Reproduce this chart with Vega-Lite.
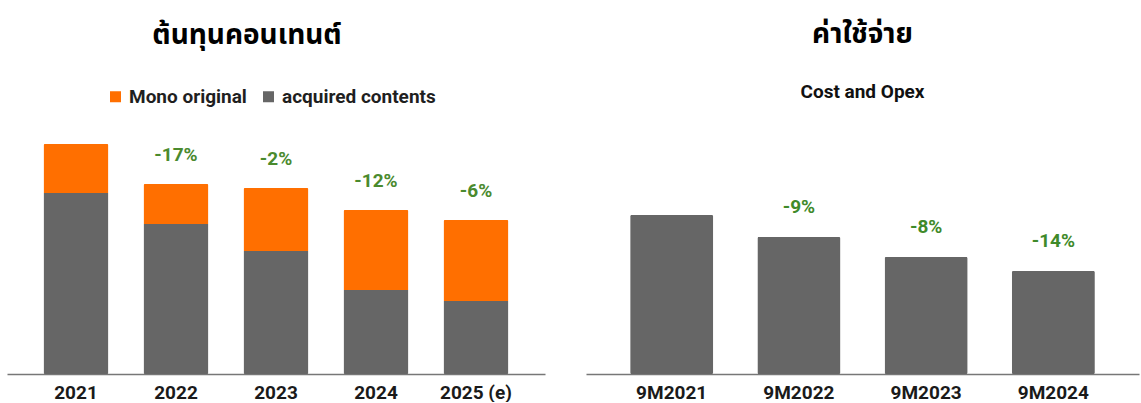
{
  "$schema": "https://vega.github.io/schema/vega-lite/v6.json",
  "background": "white",
  "padding": {"left": 7, "top": 21, "right": 2, "bottom": 0},
  "spacing": 41,
  "config": {
    "view": {"stroke": null},
    "font": "Roboto",
    "axisX": {
      "title": null,
      "labelAngle": 0,
      "ticks": false,
      "grid": false,
      "labelFont": "Roboto",
      "labelFontSize": 19,
      "labelFontWeight": "bold",
      "labelColor": "#1a1a1a",
      "labelPadding": 9,
      "domainColor": "#777777",
      "domainWidth": 1.5
    }
  },
  "datasets": {
    "content": [
      {"year": "2021", "series": "acquired contents", "value": 181, "change": null},
      {"year": "2021", "series": "Mono original", "value": 49, "change": null},
      {"year": "2022", "series": "acquired contents", "value": 150, "change": "-17%"},
      {"year": "2022", "series": "Mono original", "value": 40, "change": "-17%"},
      {"year": "2023", "series": "acquired contents", "value": 123, "change": "-2%"},
      {"year": "2023", "series": "Mono original", "value": 63, "change": "-2%"},
      {"year": "2024", "series": "acquired contents", "value": 84, "change": "-12%"},
      {"year": "2024", "series": "Mono original", "value": 80, "change": "-12%"},
      {"year": "2025 (e)", "series": "acquired contents", "value": 73, "change": "-6%"},
      {"year": "2025 (e)", "series": "Mono original", "value": 81, "change": "-6%"}
    ],
    "opex": [
      {"period": "9M2021", "value": 159, "change": null},
      {"period": "9M2022", "value": 137, "change": "-9%"},
      {"period": "9M2023", "value": 117, "change": "-8%"},
      {"period": "9M2024", "value": 103, "change": "-14%"}
    ]
  },
  "hconcat": [
    {
      "width": 538,
      "height": 254,
      "title": {
        "text": "ต้นทุนคอนเทนต์",
        "font": "Noto Sans Thai, Tahoma, Noto Sans, sans-serif",
        "fontSize": 28,
        "fontWeight": "bold",
        "color": "#000000",
        "dx": -29,
        "offset": 70
      },
      "data": {"name": "content"},
      "layer": [
        {
          "mark": {"type": "bar", "cornerRadius": 1.5},
          "encoding": {
            "x": {
              "field": "year",
              "type": "nominal",
              "sort": null,
              "scale": {"paddingInner": 0.35, "paddingOuter": 0.365}
            },
            "y": {
              "field": "value",
              "type": "quantitative",
              "aggregate": "sum",
              "stack": "zero",
              "axis": null,
              "scale": {"domain": [0, 254], "nice": false}
            },
            "color": {
              "field": "series",
              "type": "nominal",
              "scale": {"domain": ["Mono original", "acquired contents"], "range": ["#ff6f00", "#666666"]},
              "legend": {
                "title": null,
                "orient": "none",
                "direction": "horizontal",
                "legendX": 99,
                "legendY": -33,
                "symbolType": "square",
                "symbolSize": 121,
                "symbolStrokeWidth": 0,
                "labelFont": "Roboto",
                "labelFontSize": 19,
                "labelFontWeight": "bold",
                "labelColor": "#1f1f1f",
                "labelOffset": 4,
                "columnPadding": 12
              }
            },
            "order": {"field": "series", "sort": "descending"}
          }
        },
        {
          "transform": [
            {"filter": "datum.change != null"},
            {"aggregate": [{"op": "sum", "field": "value", "as": "total"}], "groupby": ["year", "change"]}
          ],
          "mark": {"type": "text", "font": "Roboto", "fontSize": 19, "fontWeight": "bold", "color": "#4a8a2e", "baseline": "middle", "dy": -29},
          "encoding": {
            "x": {"field": "year", "type": "nominal", "sort": null},
            "y": {"field": "total", "type": "quantitative"},
            "text": {"field": "change"}
          }
        }
      ]
    },
    {
      "width": 553,
      "height": 254,
      "title": {
        "text": "ค่าใช้จ่าย",
        "subtitle": "Cost and Opex",
        "font": "Noto Sans Thai, Tahoma, Noto Sans, sans-serif",
        "fontSize": 28,
        "fontWeight": "bold",
        "color": "#000000",
        "subtitleFont": "Roboto",
        "subtitleFontSize": 19,
        "subtitleFontWeight": "bold",
        "subtitleColor": "#111111",
        "subtitlePadding": 34,
        "offset": 18
      },
      "data": {"name": "opex"},
      "layer": [
        {
          "mark": {"type": "bar", "cornerRadius": 1.5, "color": "#666666"},
          "encoding": {
            "x": {
              "field": "period",
              "type": "nominal",
              "sort": null,
              "scale": {"paddingInner": 0.347, "paddingOuter": 0.347}
            },
            "y": {
              "field": "value",
              "type": "quantitative",
              "axis": null,
              "scale": {"domain": [0, 254], "nice": false}
            }
          }
        },
        {
          "transform": [{"filter": "datum.change != null"}],
          "mark": {"type": "text", "font": "Roboto", "fontSize": 19, "fontWeight": "bold", "color": "#3f8a2a", "baseline": "middle", "dy": -30},
          "encoding": {
            "x": {"field": "period", "type": "nominal", "sort": null},
            "y": {"field": "value", "type": "quantitative"},
            "text": {"field": "change"}
          }
        }
      ]
    }
  ]
}
